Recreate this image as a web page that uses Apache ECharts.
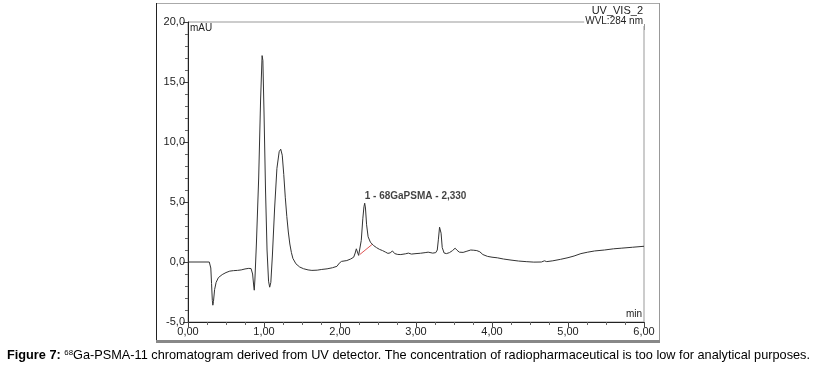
<!DOCTYPE html>
<html>
<head>
<meta charset="utf-8">
<script src="https://cdn.jsdelivr.net/npm/echarts@6/dist/echarts.min.js"></script>
<style>
html,body{margin:0;padding:0;background:#fff;}
#c{width:816px;height:369px;}
</style>
</head>
<body>
<div id="c"></div>
<script>
// Retention time (min)
var times = [0.00,0.28,0.30,0.31,0.32,0.327,0.335,0.35,0.37,0.40,0.45,0.50,0.55,0.60,0.65,0.70,0.75,0.80,0.83,0.85,0.865,0.872,0.88,0.90,0.93,0.955,0.975,0.985,1.00,1.02,1.04,1.06,1.075,1.09,1.11,1.14,1.17,1.20,1.22,1.24,1.26,1.28,1.30,1.32,1.34,1.36,1.38,1.42,1.47,1.52,1.58,1.63,1.70,1.76,1.83,1.90,1.96,1.99,2.02,2.09,2.14,2.18,2.20,2.215,2.23,2.245,2.26,2.28,2.30,2.315,2.325,2.335,2.35,2.37,2.40,2.44,2.48,2.52,2.56,2.60,2.63,2.66,2.69,2.72,2.76,2.80,2.86,2.90,2.94,2.96,3.00,3.06,3.12,3.16,3.22,3.26,3.28,3.295,3.31,3.318,3.33,3.345,3.37,3.40,3.44,3.48,3.515,3.54,3.57,3.62,3.67,3.72,3.76,3.80,3.84,3.88,3.94,4.00,4.07,4.15,4.25,4.35,4.45,4.55,4.65,4.69,4.72,4.80,4.90,5.00,5.08,5.17,5.26,5.35,5.48,5.60,5.70,5.85,6.00];
// Absorbance (mAU)
var absorbance = [0,0,-0.5,-1.8,-3.2,-3.6,-3.3,-2.3,-1.7,-1.3,-1.05,-0.88,-0.76,-0.72,-0.7,-0.66,-0.58,-0.53,-0.55,-1.0,-2.0,-2.35,-1.5,1.5,7.0,13.5,17.2,16.8,12.5,6.0,1.0,-1.6,-2.1,-1.7,0.5,4.5,7.8,9.2,9.4,8.9,7.3,5.4,3.8,2.5,1.5,0.8,0.3,-0.15,-0.42,-0.56,-0.66,-0.7,-0.68,-0.62,-0.57,-0.48,-0.36,-0.1,0.05,0.12,0.25,0.4,0.75,1.1,0.95,0.55,0.6,1.8,3.6,4.6,4.9,4.5,3.1,2.1,1.65,1.38,1.2,1.05,0.95,0.82,0.72,0.76,0.92,0.7,0.63,0.62,0.68,0.74,0.66,0.72,0.7,0.73,0.78,0.82,0.74,0.78,1.0,1.9,2.9,3.05,2.4,1.2,0.75,0.7,0.78,0.95,1.15,0.98,0.82,0.8,0.9,1.0,0.98,0.95,0.85,0.62,0.47,0.4,0.35,0.25,0.16,0.08,0.03,-0.01,0.0,0.1,0.03,0.1,0.22,0.36,0.5,0.7,0.82,0.92,1.0,1.1,1.15,1.23,1.31];
// Peak integration baseline
var baselineT = [2.26, 2.42];
var baselineV = [0.62, 1.45];
// Peak label
var peakT = 2.325, peakV = 4.9;
var peakLabel = '1 - 68GaPSMA - 2,330';
var yTicks = {min:-5, max:20, interval:5};
var xTicks = {min:0, max:6, interval:1};
var captionBold = 'Figure 7:';
var captionSup = '68';
var captionRest = 'Ga-PSMA-11 chromatogram derived from UV detector. The concentration of radiopharmaceutical is too low for analytical purposes.';

var trace = times.map(function(t,i){return [t, absorbance[i]];});
var base = baselineT.map(function(t,i){return [t, baselineV[i]];});

var F = 'Liberation Sans, Arial, sans-serif';
var cv = document.createElement('canvas').getContext('2d');
cv.font = 'bold 13px '+F; var w1 = cv.measureText(captionBold+' ').width;
cv.font = '8px '+F; var w2 = cv.measureText(captionSup).width;
cv.font = '13px '+F; var w3 = cv.measureText(captionRest).width;
var capScale = 803/(w1+w2+w3);

var chart = echarts.init(document.getElementById('c'), null, {renderer:'canvas'});
chart.setOption({
  animation:false,
  backgroundColor:'#fff',
  grid:{left:188,right:172,top:22,bottom:47,show:true,borderColor:'#999',borderWidth:1,backgroundColor:'transparent'},
  xAxis:{type:'value',min:xTicks.min,max:xTicks.max,interval:xTicks.interval,
    axisLine:{onZero:false,lineStyle:{color:'#222',width:1}},
    axisTick:{length:5,lineStyle:{color:'#444'}},
    minorTick:{show:true,splitNumber:4,length:3,lineStyle:{color:'#666'}},
    splitLine:{show:false},
    axisLabel:{color:'#222',fontFamily:F,fontSize:11,margin:4,formatter:function(v){return v.toFixed(2).replace('.',',');}}
  },
  yAxis:{type:'value',min:yTicks.min,max:yTicks.max,interval:yTicks.interval,
    axisLine:{onZero:false,lineStyle:{color:'#222',width:1}},
    axisTick:{length:5,lineStyle:{color:'#444'}},
    minorTick:{show:true,splitNumber:5,length:3,lineStyle:{color:'#666'}},
    splitLine:{show:false},
    axisLabel:{color:'#222',fontFamily:F,fontSize:11,margin:3,formatter:function(v){return v.toFixed(1).replace('.',',');}}
  },
  series:[
    {type:'line',data:trace,symbol:'none',lineStyle:{color:'#333',width:1},z:3},
    {type:'line',data:base,symbol:'none',lineStyle:{color:'#e05555',width:1},z:2},
    {type:'scatter',data:[[peakT,peakV]],symbolSize:0,
      label:{show:true,position:[0,-12],formatter:peakLabel,color:'#111',fontFamily:F,fontSize:10,fontWeight:'bold'}}
  ],
  graphic:[
    {type:'line',shape:{x1:156,y1:3.5,x2:659,y2:3.5},style:{stroke:'#aaa',lineWidth:1}},
    {type:'line',shape:{x1:156.5,y1:3,x2:156.5,y2:341},style:{stroke:'#222',lineWidth:1}},
    {type:'line',shape:{x1:659.5,y1:3,x2:659.5,y2:341},style:{stroke:'#999',lineWidth:1}},
    {type:'rect',shape:{x:156,y:340,width:504,height:3},style:{fill:'#888'}},
    {type:'text',style:{x:190,y:28,text:'mAU',font:'10px '+F,fill:'#222',align:'left',verticalAlign:'middle'}},
    {type:'text',style:{x:642,y:314,text:'min',font:'10px '+F,fill:'#222',align:'right',verticalAlign:'middle'}},
    {type:'text',style:{x:643,y:11,text:'UV_VIS_2',font:'11px '+F,fill:'#222',align:'right',verticalAlign:'middle'}},
    {type:'text',z:10,style:{x:645,y:21,text:'WVL:284 nm',font:'10px '+F,fill:'#222',align:'right',verticalAlign:'middle',backgroundColor:'#fff',padding:[0,2,0,1]}},
    {type:'line',z:11,shape:{x1:644.5,y1:24,x2:644.5,y2:30},style:{stroke:'#999',lineWidth:1}},
    {type:'text',x:7,y:349,scaleX:capScale,originX:0,style:{
      rich:{b:{fontWeight:'bold',fontSize:13,fontFamily:F,fill:'#000'},
            s:{fontSize:8,fontFamily:F,fill:'#000',verticalAlign:'top'},
            n:{fontSize:13,fontFamily:F,fill:'#000'}},
      text:'{b|'+captionBold+' }{s|'+captionSup+'}{n|'+captionRest+'}'
    }}
  ]
});
</script>
</body>
</html>
